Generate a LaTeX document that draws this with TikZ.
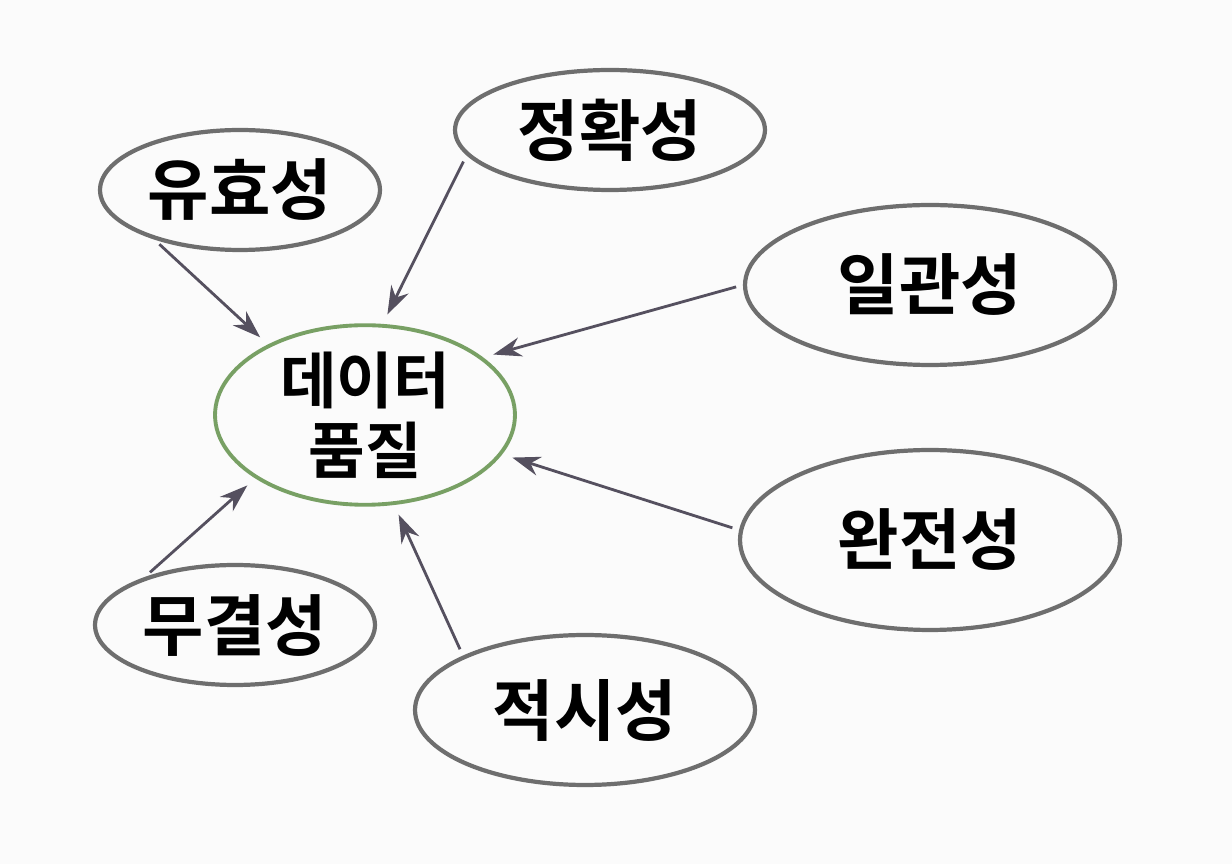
\documentclass[tikz,border=0pt]{standalone}
\usepackage{fontspec}
\setmainfont{Noto Sans CJK KR}[BoldFont={* Bold}]
\usepackage{xcolor}
\usetikzlibrary{shapes.geometric,arrows.meta}
\definecolor{ringgray}{RGB}{110,110,110}
\definecolor{ringgreen}{RGB}{120,160,100}
\definecolor{arrowgray}{RGB}{85,80,95}

\begin{document}
\begin{tikzpicture}[x=0.02cm,y=-0.02cm,
    facet/.style={ellipse, draw=ringgray, line width=2.4pt, font=\fontsize{38}{40}\selectfont\bfseries, inner sep=0pt},
    core/.style={ellipse, draw=ringgreen, line width=2.2pt, font=\fontsize{35}{40}\selectfont\bfseries, align=center, inner sep=0pt},
    link/.style={draw=arrowgray, line width=1.6pt, -{Stealth[length=16pt,width=11pt]}, shorten >=6pt, shorten <=4pt}]
        \fill[white!97!gray] (0,0) rectangle (1232,864);

        % center
        \node[core, minimum width=6cm, minimum height=3.4cm] (quality) at (365,415) {데이터\\품질};

        % facets
        \node[facet, minimum width=5.6cm, minimum height=2.4cm] (validity) at (240,190) {유효성};
        \node[facet, minimum width=6.2cm, minimum height=2.4cm] (accuracy) at (610,130) {정확성};
        \node[facet, minimum width=7.4cm, minimum height=3.2cm] (consistency) at (930,285) {일관성};
        \node[facet, minimum width=7.6cm, minimum height=3.6cm] (completeness) at (930,540) {완전성};
        \node[facet, minimum width=5.6cm, minimum height=2.4cm] (integrity) at (235,625) {무결성};
        \node[facet, minimum width=6.8cm, minimum height=3cm] (timeliness) at (585,710) {적시성};

        % arrows
        \draw[link] (validity.210) -- (quality.144);
        \draw[link] (accuracy.190) -- (quality.79);
        \draw[link] (consistency.180) -- (quality.26);
        \draw[link] (completeness.177) -- (quality.-16);
        \draw[link] (timeliness.156) -- (quality.-72);
        \draw[link] (integrity.152) -- (quality.-150);
    \end{tikzpicture}
\end{document}
